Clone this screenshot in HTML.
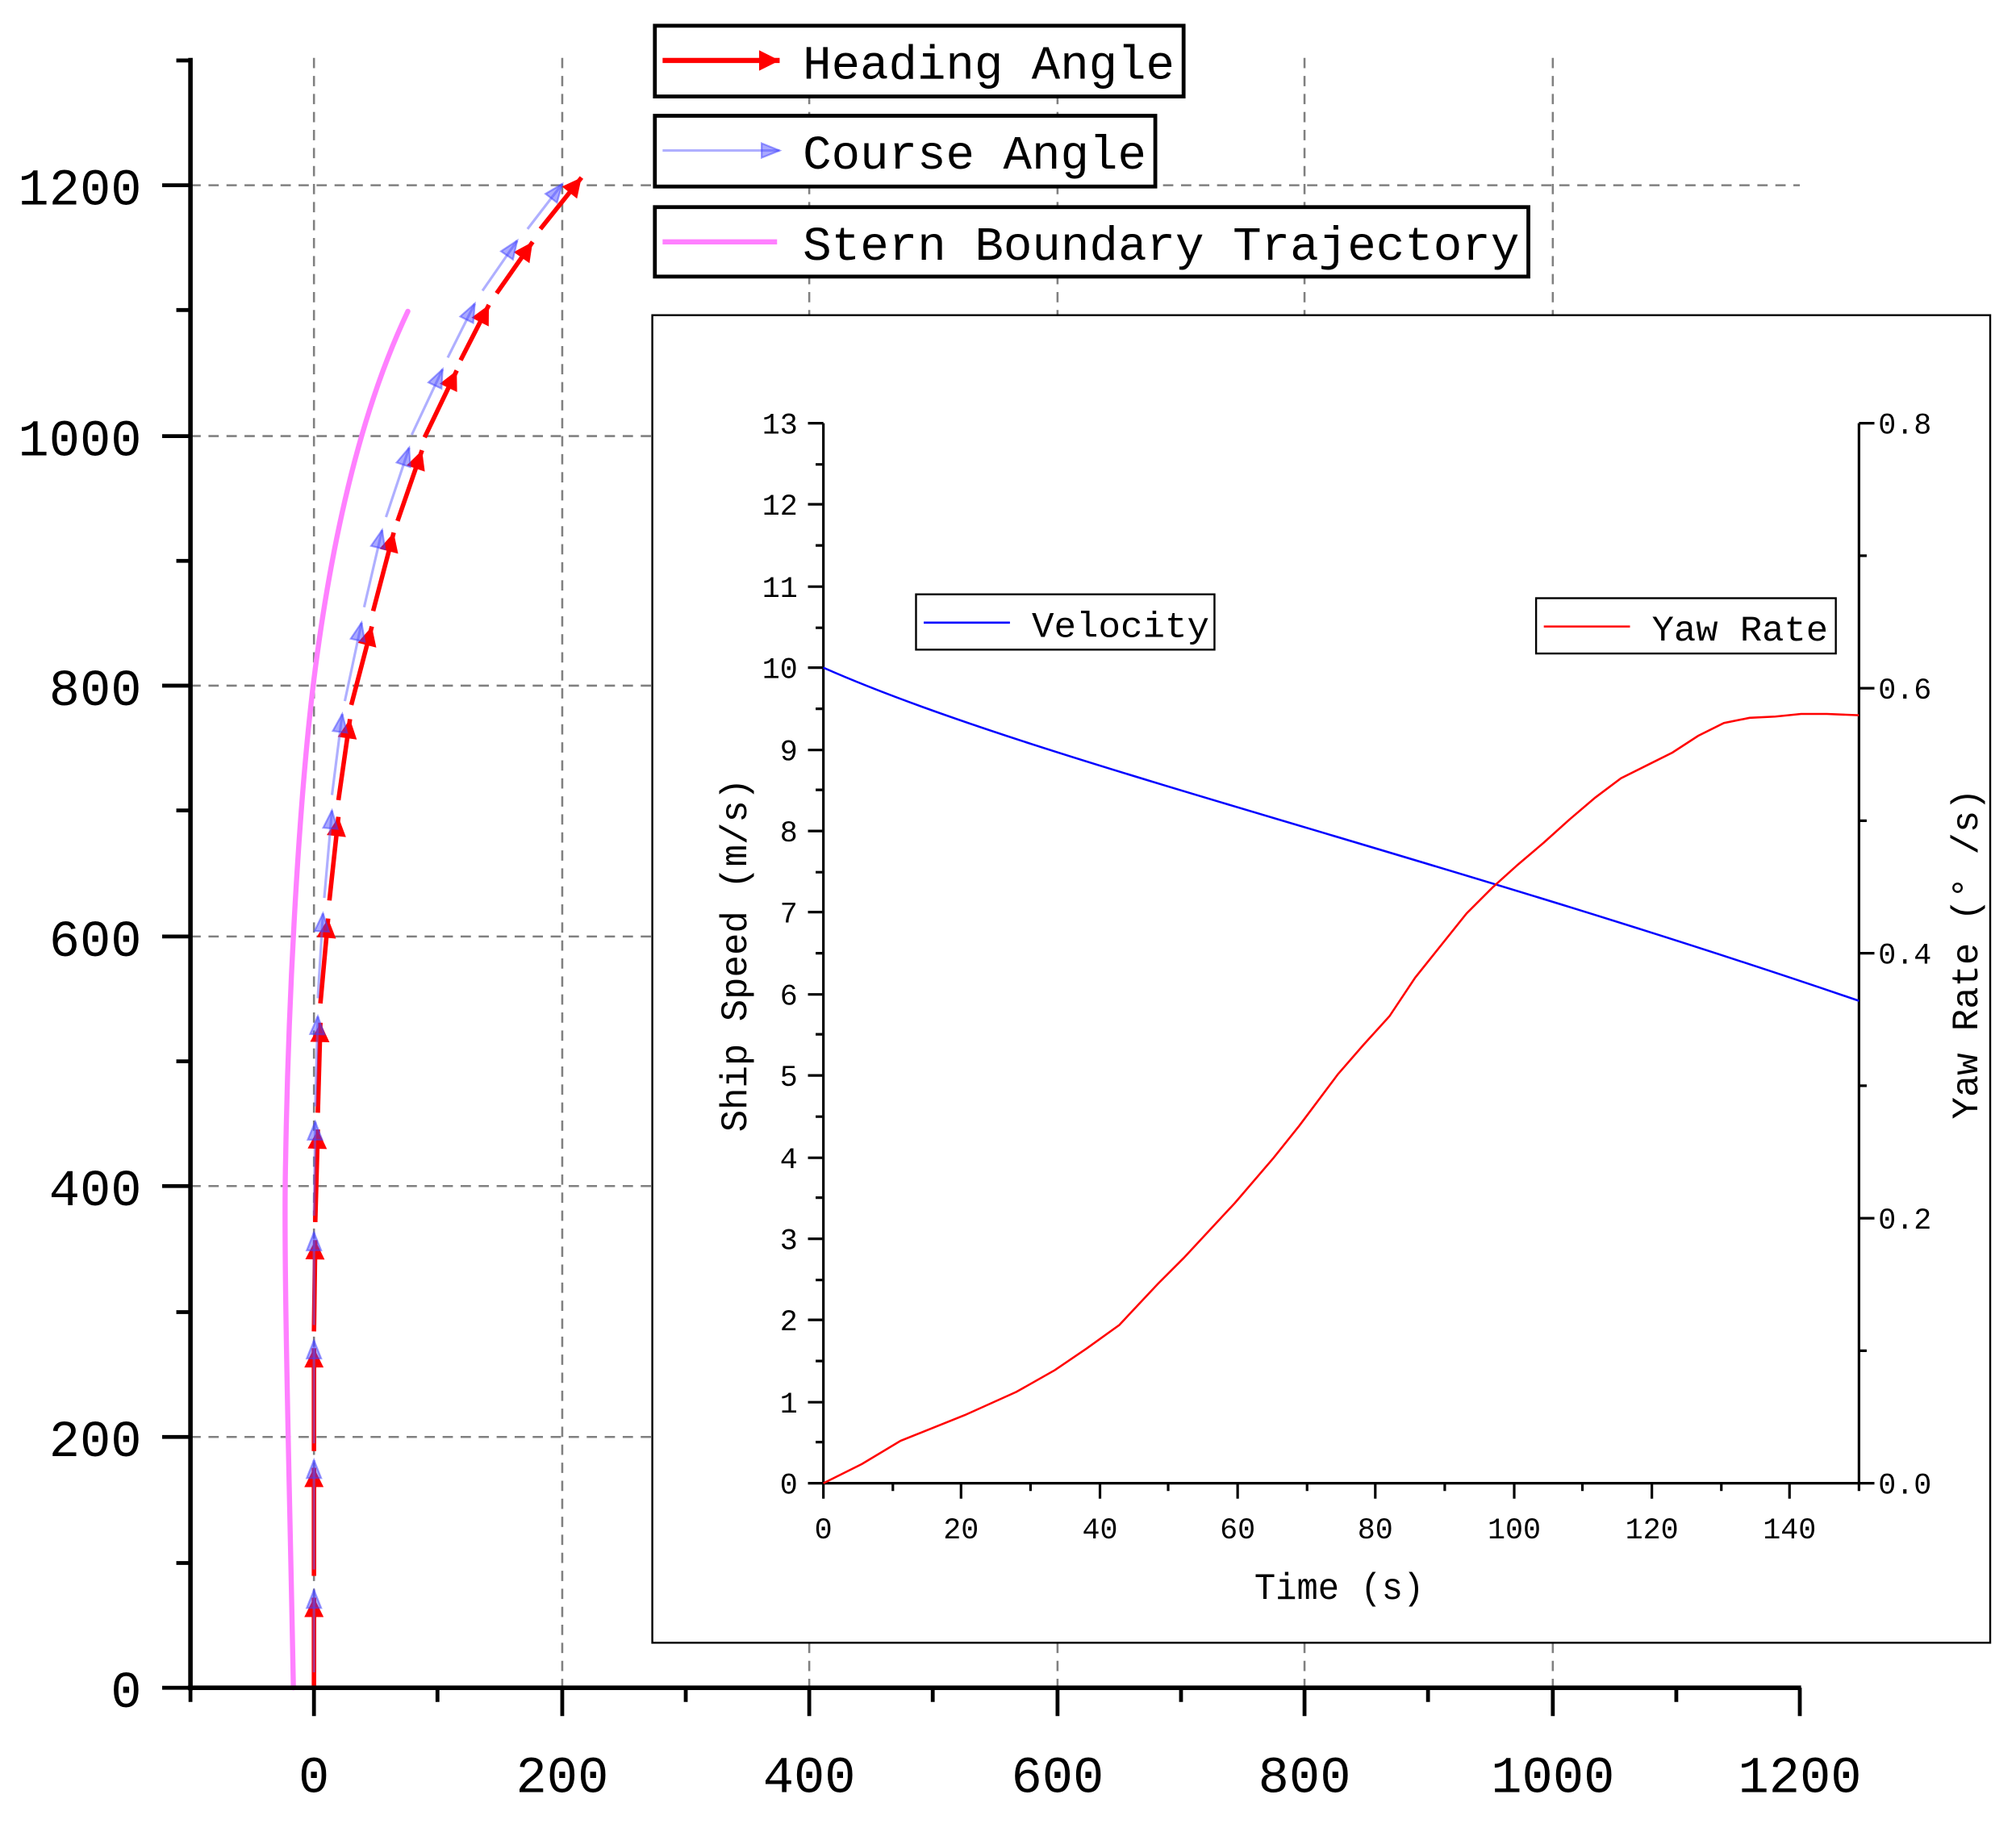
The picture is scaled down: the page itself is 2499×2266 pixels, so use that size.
<!DOCTYPE html>
<html><head><meta charset="utf-8"><style>
html,body{margin:0;padding:0;background:#fff}
svg{display:block}
text{font-family:"Liberation Mono","Noto Serif CJK SC",monospace}
.big{font-family:"Liberation Serif",serif;font-size:40px}
</style></head><body>
<svg width="2499" height="2266" viewBox="0 0 1567 1421" xmlns="http://www.w3.org/2000/svg">
<defs>
<marker id="ra" viewBox="0 0 10 10" refX="10" refY="5" markerWidth="19" markerHeight="15" orient="auto" markerUnits="userSpaceOnUse"><path d="M0,0 L10,5 L0,10 z" fill="#f00"/></marker>
<marker id="ba" viewBox="0 0 10 10" refX="10" refY="5" markerWidth="18" markerHeight="14" orient="auto" markerUnits="userSpaceOnUse"><path d="M0,1 L10,5 L0,9 z" fill="#4040ff" fill-opacity="0.45" stroke="#4040ff" stroke-opacity="0.5"/></marker>
<marker id="lra" viewBox="0 0 10 10" refX="10" refY="5" markerWidth="22" markerHeight="16" orient="auto" markerUnits="userSpaceOnUse"><path d="M0,0 L10,5 L0,10 z" fill="#f00"/></marker>
</defs>
<rect width="1567" height="1421" fill="#fff"/>
<g stroke="#808080" stroke-width="1.6" stroke-dasharray="8,6">
<line x1="244" y1="45" x2="244" y2="1312"/><line x1="437" y1="45" x2="437" y2="1312"/>
<line x1="629" y1="45" x2="629" y2="1312"/><line x1="822" y1="45" x2="822" y2="1312"/>
<line x1="1014" y1="45" x2="1014" y2="1312"/><line x1="1207" y1="45" x2="1207" y2="1312"/>
<line x1="148" y1="144" x2="1399" y2="144"/><line x1="148" y1="339" x2="1399" y2="339"/>
<line x1="148" y1="533" x2="1399" y2="533"/><line x1="148" y1="728" x2="1399" y2="728"/>
<line x1="148" y1="922" x2="1399" y2="922"/><line x1="148" y1="1117" x2="1399" y2="1117"/>
</g>
<path d="M228,1312 C225,1150 220,980 222,900 C224,780 232,620 245,520 C258,420 280,320 317,242" fill="none" stroke="#ff80ff" stroke-width="4" stroke-linecap="round"/>
<g stroke="#f00" stroke-width="3.5" fill="none" marker-end="url(#ra)">
<path d="M244,1312 L244,1242"/><path d="M244,1225 L244,1141"/><path d="M244,1128 L244,1048"/>
<path d="M244,1035 L245,964"/><path d="M245,950 L247,878"/><path d="M247,865 L249,795"/>
<path d="M249,780 L255,714"/><path d="M256,700 L263,635"/><path d="M263,622 L272,559"/>
<path d="M273,548 L289,487"/><path d="M290,475 L306,414"/><path d="M309,405 L328,350"/>
<path d="M330,340 L355,288"/><path d="M358,280 L380,237"/><path d="M386,228 L414,188"/><path d="M420,178 L452,138"/>
</g>
<g stroke="#6060ff" stroke-opacity="0.5" stroke-width="2" fill="none" marker-end="url(#ba)">
<path d="M244,1300 L244,1236"/><path d="M244,1220 L244,1135"/><path d="M244,1122 L244,1042"/>
<path d="M244,1030 L244,958"/><path d="M244,945 L245,872"/><path d="M245,860 L247,790"/>
<path d="M247,776 L251,710"/><path d="M252,698 L258,630"/><path d="M258,618 L266,555"/>
<path d="M268,545 L281,484"/><path d="M283,472 L297,412"/><path d="M300,402 L318,348"/>
<path d="M320,338 L344,287"/><path d="M348,278 L369,236"/><path d="M375,226 L402,187"/><path d="M410,178 L437,143"/>
</g>
<g stroke="#000" stroke-width="3.5">
<line x1="148" y1="45" x2="148" y2="1314"/><line x1="146" y1="1312" x2="1400" y2="1312"/>
</g>
<g stroke="#000" stroke-width="3">
<path d="M126,1312h22M126,1117h22M126,922h22M126,728h22M126,533h22M126,339h22M126,144h22"/>
<path d="M137,1215h11M137,1020h11M137,825h11M137,630h11M137,436h11M137,241h11M137,47h11"/>
<path d="M244,1312v22M437,1312v22M629,1312v22M822,1312v22M1014,1312v22M1207,1312v22M1399,1312v22"/>
<path d="M148,1312v11M340,1312v11M533,1312v11M725,1312v11M918,1312v11M1110,1312v11M1303,1312v11"/>
</g>
<g class="big" text-anchor="end">
<text x="110" y="1327">0</text><text x="110" y="1132">200</text><text x="110" y="937">400</text>
<text x="110" y="743">600</text><text x="110" y="548">800</text><text x="110" y="354">1000</text><text x="110" y="159">1200</text>
</g>
<g class="big" text-anchor="middle">
<text x="244" y="1393">0</text><text x="437" y="1393">200</text><text x="629" y="1393">400</text><text x="822" y="1393">600</text>
<text x="1014" y="1393">800</text><text x="1207" y="1393">1000</text><text x="1399" y="1393">1200</text>
</g>
<g fill="#fff" stroke="#000" stroke-width="3">
<rect x="509" y="20" width="411" height="55"/><rect x="509" y="90" width="389" height="55"/><rect x="509" y="161" width="679" height="54"/>
</g>
<line x1="515" y1="47" x2="606" y2="47" stroke="#f00" stroke-width="4" marker-end="url(#lra)"/>
<line x1="515" y1="117" x2="606" y2="117" stroke="#6060ff" stroke-opacity="0.5" stroke-width="2" marker-end="url(#ba)"/>
<line x1="515" y1="188" x2="604" y2="188" stroke="#ff80ff" stroke-width="4"/>
<g font-size="37">
<text x="624" y="61" textLength="289" lengthAdjust="spacingAndGlyphs">Heading Angle</text>
<text x="624" y="131" textLength="267" lengthAdjust="spacingAndGlyphs">Course Angle</text>
<text x="624" y="202" textLength="557" lengthAdjust="spacingAndGlyphs">Stern Boundary Trajectory</text>
</g>
<rect x="507" y="245" width="1040" height="1032" fill="#fff" stroke="#000" stroke-width="1.5"/>
<g stroke="#000" stroke-width="2">
<line x1="640" y1="329" x2="640" y2="1154"/><line x1="1445" y1="329" x2="1445" y2="1154"/><line x1="639" y1="1153" x2="1446" y2="1153"/>
</g>
<g stroke="#000" stroke-width="2">
<path d="M628,1153h12M628,1090h12M628,1026h12M628,963h12M628,900h12M628,836h12M628,773h12M628,709h12M628,646h12M628,583h12M628,519h12M628,456h12M628,392h12M628,329h12"/>
<path d="M634,1121h6M634,1058h6M634,995h6M634,931h6M634,868h6M634,804h6M634,741h6M634,678h6M634,614h6M634,551h6M634,488h6M634,424h6M634,361h6"/>
<path d="M1445,1153h12M1445,947h12M1445,741h12M1445,535h12M1445,329h12M1445,1050h6M1445,844h6M1445,638h6M1445,432h6"/>
<path d="M640,1153v12M747,1153v12M855,1153v12M962,1153v12M1069,1153v12M1177,1153v12M1284,1153v12M1391,1153v12"/>
<path d="M694,1153v6M801,1153v6M908,1153v6M1016,1153v6M1123,1153v6M1230,1153v6M1338,1153v6M1445,1153v6"/>
</g>
<g font-size="23" text-anchor="end">
<text x="620" y="1161">0</text><text x="620" y="1098">1</text><text x="620" y="1034">2</text><text x="620" y="971">3</text>
<text x="620" y="908">4</text><text x="620" y="844">5</text><text x="620" y="781">6</text><text x="620" y="717">7</text>
<text x="620" y="654">8</text><text x="620" y="591">9</text><text x="620" y="527">10</text><text x="620" y="464">11</text>
<text x="620" y="400">12</text><text x="620" y="337">13</text>
</g>
<g font-size="23">
<text x="1460" y="1161">0.0</text><text x="1460" y="955">0.2</text><text x="1460" y="749">0.4</text><text x="1460" y="543">0.6</text><text x="1460" y="337">0.8</text>
</g>
<g font-size="23" text-anchor="middle">
<text x="640" y="1196">0</text><text x="747" y="1196">20</text><text x="855" y="1196">40</text><text x="962" y="1196">60</text>
<text x="1069" y="1196">80</text><text x="1177" y="1196">100</text><text x="1284" y="1196">120</text><text x="1391" y="1196">140</text>
</g>
<text x="975" y="1243" font-size="29" textLength="132" lengthAdjust="spacingAndGlyphs">Time (s)</text>
<text transform="translate(580,880) rotate(-90)" font-size="29" textLength="275" lengthAdjust="spacingAndGlyphs">Ship Speed (m/s)</text>
<text transform="translate(1537,870) rotate(-90)" font-size="29" textLength="257" lengthAdjust="spacingAndGlyphs">Yaw Rate (° /s)</text>
<path d="M640,519 C800,590 1100,660 1445,778" fill="none" stroke="#00f" stroke-width="1.6"/>
<polyline fill="none" stroke="#f00" stroke-width="1.6" points="640,1153 670,1138 700,1120 750,1100 790,1082 820,1065 845,1048 870,1030 900,998 920,978 960,935 990,900 1010,875 1040,835 1060,812 1080,790 1100,760 1120,735 1140,710 1160,690 1180,672 1200,655 1220,637 1240,620 1260,605 1280,595 1300,585 1320,572 1340,562 1360,558 1380,557 1400,555 1420,555 1445,556"/>
<rect x="712" y="462" width="232" height="43" fill="#fff" stroke="#000" stroke-width="1.5"/>
<line x1="718" y1="484" x2="785" y2="484" stroke="#00f" stroke-width="1.6"/>
<text x="802" y="495" font-size="28" textLength="138" lengthAdjust="spacingAndGlyphs">Velocity</text>
<rect x="1194" y="465" width="233" height="43" fill="#fff" stroke="#000" stroke-width="1.5"/>
<line x1="1200" y1="487" x2="1267" y2="487" stroke="#f00" stroke-width="1.6"/>
<text x="1284" y="498" font-size="28" textLength="137" lengthAdjust="spacingAndGlyphs">Yaw Rate</text>
</svg>
</body></html>
